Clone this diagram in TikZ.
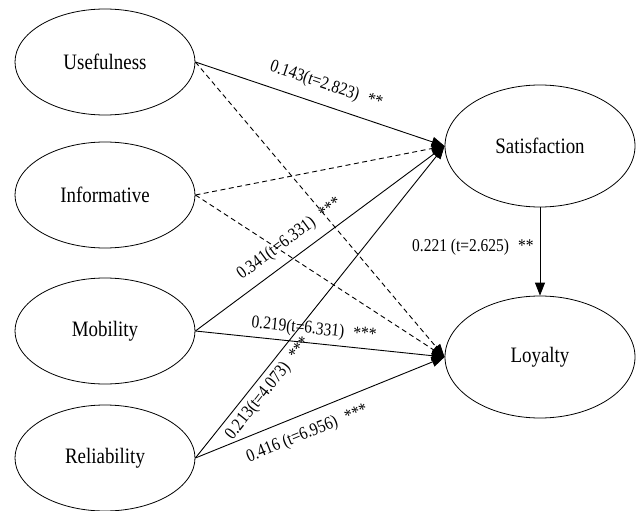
\documentclass[tikz,border=0pt]{standalone}
\usepackage{fontspec}
\setmainfont{Liberation Serif}[FakeStretch=0.86]
\usepackage{tikz}
\usetikzlibrary{positioning}
\usetikzlibrary{shapes,arrows.meta}

\newcommand{\Stars}[1]{\hspace{9pt}#1}

\begin{document}
\begin{tikzpicture}[x=1pt,y=-1pt,->,>={Triangle[length=13pt,width=10pt]},line width=0.9pt]
\tikzset{LatentStyle/.style = {draw,ellipse,line width=0.8pt,inner sep=0pt,
                               minimum width=180pt,minimum height=106pt,
                               font=\fontsize{22}{26}\selectfont},
         EndoStyle/.style = {LatentStyle,minimum width=190pt,minimum height=122pt},
         WeightStyle/.style = {sloped,inner sep=1pt,font=\fontsize{18}{21}\selectfont},
         NsStyle/.style = {dash pattern=on 5pt off 3.5pt}}
\useasboundingbox (0,0) rectangle (640,511);

\node[LatentStyle] (Use) at (105,62)  {Usefulness};
\node[LatentStyle] (Inf) at (105,195) {Informative};
\node[LatentStyle] (Mob) at (105,331) {Mobility};
\node[LatentStyle] (Rel) at (105,458) {Reliability};
\node[EndoStyle]   (Sat) at (540,146) {Satisfaction};
\node[EndoStyle]   (Loy) at (540,357) {Loyalty};

% non significant paths
\draw[NsStyle] (Use.east) -- (Loy.west);
\draw[NsStyle] (Inf.east) -- (Sat.west);
\draw[NsStyle] (Inf.east) -- (Loy.west);

\draw (Use.east) -- node[WeightStyle,pos=0.5,above=10pt] {0.143(t=2.823)\Stars{**}} (Sat.west);
\draw (Mob.east) -- node[WeightStyle,pos=0.42,above=8pt] {0.341(t=6.331)\Stars{***}} (Sat.west);
\draw (Mob.east) -- node[WeightStyle,pos=0.47,above=4pt] {0.219(t=6.331)\Stars{***}} (Loy.west);
\draw (Rel.east) -- node[WeightStyle,pos=0.25,below=4pt] {0.213(t=4.073)\Stars{***}} (Sat.west);
\draw (Rel.east) -- node[WeightStyle,pos=0.42,below=10pt] {0.416 (t=6.956)\Stars{***}} (Loy.west);
\draw (Sat.south) -- node[pos=0.45,left=5pt,inner sep=1pt,font=\fontsize{18}{21}\selectfont]
      {0.221 (t=2.625)\Stars{**}} (Loy.north);
\end{tikzpicture}
\end{document}
